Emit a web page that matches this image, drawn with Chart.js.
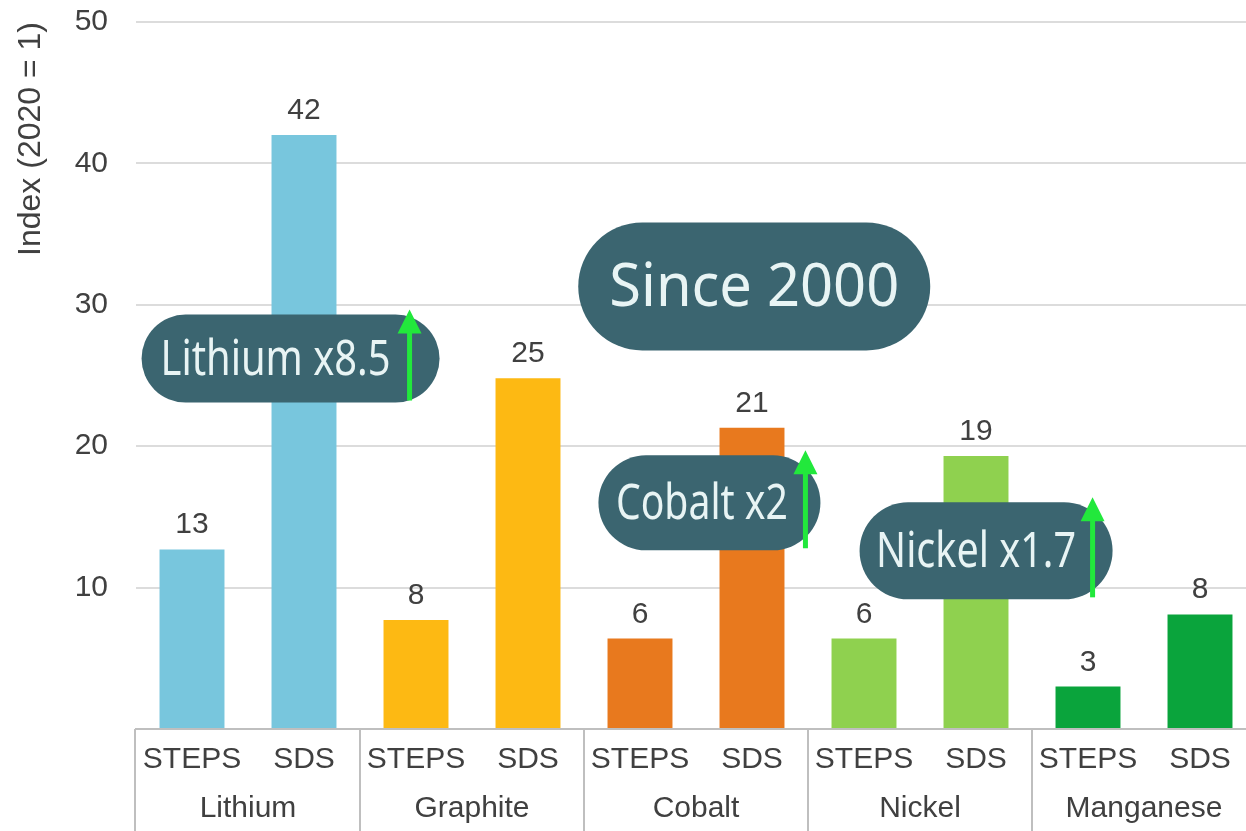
<!DOCTYPE html>
<html>
<head>
<meta charset="utf-8">
<title>Mineral demand index</title>
<script src="https://cdn.jsdelivr.net/npm/chart.js@4/dist/chart.umd.min.js"></script>
<style>
    html, body { margin: 0; padding: 0; background: #fff; overflow: hidden; }
</style>
</head>
<body>
<canvas id="ChartMinerals" width="1256" height="849"></canvas>
<script>
// Demand index by mineral, 2040 vs 2020
const minerals = ['Lithium', 'Graphite', 'Cobalt', 'Nickel', 'Manganese'];
const scenarios = ['STEPS', 'SDS'];
const stepsValues = [12.7, 7.7, 6.4, 6.4, 3.0];
const sdsValues = [42.0, 24.8, 21.3, 19.3, 8.1];
const yTicks = [10, 20, 30, 40, 50];

const mineralColors = ['#78c6dd', '#fdb913', '#e8791e', '#8fd14f', '#0aa43c'];
const textColor = '#404040';
const pillColor = '#3b6570';
const arrowColor = '#22e83c';
const labelFont = '"Liberation Sans", Arial, sans-serif';

// callouts placed on the chart scales (category index / index value)
const callouts = [
    { text: 'Since 2000', at: 5.02, value: 31.3, w: 352, h: 128, size: 60, fit: 290, arrow: false },
    { text: 'Lithium x8.5', at: 0.88, value: 26.2, w: 298, h: 88, size: 50, fit: 230, arrow: true, arrowDx: 30 },
    { text: 'Cobalt x2', at: 4.62, value: 16.0, w: 222, h: 95, size: 50, fit: 172, arrow: true, arrowDx: 15 },
    { text: 'Nickel x1.7', at: 7.09, value: 12.6, w: 253, h: 97, size: 50, fit: 200, arrow: true, arrowDx: 20 }
];

const labels = [];
const values = [];
const colors = [];
for (var m = 0; m < minerals.length; m++) {
    labels.push(scenarios[0], scenarios[1]);
    values.push(stepsValues[m], sdsValues[m]);
    colors.push(mineralColors[m], mineralColors[m]);
}

const valueLabels = {
    id: 'valueLabels',
    afterDatasetsDraw(chart) {
        const ctx = chart.ctx;
        const meta = chart.getDatasetMeta(0);
        ctx.save();
        ctx.font = '30px ' + labelFont;
        ctx.fillStyle = textColor;
        ctx.textAlign = 'center';
        ctx.textBaseline = 'alphabetic';
        meta.data.forEach(function (bar, i) {
            ctx.fillText(Math.round(values[i]), bar.x, bar.y - 16);
        });
        ctx.restore();
    }
};

const groupAxis = {
    id: 'groupAxis',
    afterDraw(chart) {
        const ctx = chart.ctx;
        const x = chart.scales.x;
        const top = chart.chartArea.bottom;
        const bottom = chart.height;
        ctx.save();
        ctx.strokeStyle = '#bfbfbf';
        ctx.lineWidth = 2;
        ctx.beginPath();
        ctx.moveTo(x.left - 1, top);
        ctx.lineTo(x.right, top);
        for (var g = 0; g <= minerals.length; g++) {
            const px = Math.round(x.getPixelForValue(g * 2 - 0.5)) - (g === 0 ? 1 : 0);
            ctx.moveTo(px, top);
            ctx.lineTo(px, bottom);
        }
        ctx.stroke();

        ctx.font = '30px ' + labelFont;
        ctx.fillStyle = textColor;
        ctx.textAlign = 'center';
        ctx.textBaseline = 'middle';
        minerals.forEach(function (name, g) {
            ctx.fillText(name, x.getPixelForValue(g * 2 + 0.5), top + 80);
        });
        ctx.restore();
    }
};

const calloutPills = {
    id: 'calloutPills',
    afterDraw(chart) {
        const ctx = chart.ctx;
        const x = chart.scales.x;
        const y = chart.scales.y;
        ctx.save();
        callouts.forEach(function (c) {
            const cx = x.getPixelForValue(c.at);
            const cy = y.getPixelForValue(c.value);
            const left = cx - c.w / 2;
            const right = cx + c.w / 2;
            const r = c.h / 2;

            ctx.fillStyle = pillColor;
            ctx.beginPath();
            ctx.roundRect(left, cy - r, c.w, c.h, r);
            ctx.fill();

            let textX = cx;
            let arrowX = 0;
            if (c.arrow) {
                arrowX = right - c.arrowDx;
                textX = (left + arrowX) / 2;
            }
            ctx.fillStyle = '#e8f4f4';
            ctx.font = c.size + 'px "Noto Sans", "Open Sans", sans-serif';
            ctx.textAlign = 'center';
            ctx.textBaseline = 'middle';
            ctx.fillText(c.text, textX, cy + 2, c.fit);

            if (c.arrow) {
                const tip = cy - r - 5;
                const tail = cy + r - 2;
                ctx.strokeStyle = arrowColor;
                ctx.fillStyle = arrowColor;
                ctx.lineWidth = 5;
                ctx.beginPath();
                ctx.moveTo(arrowX, tail);
                ctx.lineTo(arrowX, tip + 20);
                ctx.stroke();
                ctx.beginPath();
                ctx.moveTo(arrowX, tip);
                ctx.lineTo(arrowX - 12, tip + 24);
                ctx.lineTo(arrowX + 12, tip + 24);
                ctx.closePath();
                ctx.fill();
            }
        });
        ctx.restore();
    }
};

const data = {
    labels: labels,
    datasets: [{
        label: 'Index (2020 = 1)',
        data: values,
        backgroundColor: colors,
        borderWidth: 0,
        barPercentage: 0.58,
        categoryPercentage: 1.0
    }]
};

const config = {
    type: 'bar',
    data: data,
    options: {
        responsive: false,
        animation: false,
        layout: {
            padding: { top: 22, right: 0, left: 0, bottom: 0 }
        },
        plugins: {
            legend: { display: false },
            tooltip: { enabled: false }
        },
        scales: {
            x: {
                grid: { display: false, drawTicks: false },
                border: { display: false },
                ticks: {
                    color: textColor,
                    padding: 13,
                    maxRotation: 0,
                    autoSkip: false,
                    font: { family: labelFont, size: 30 }
                },
                afterFit: function (scale) {
                    scale.height = 120;
                    scale.paddingLeft = 0;
                    scale.paddingRight = 0;
                }
            },
            y: {
                min: 0,
                max: 50,
                afterBuildTicks: function (scale) {
                    scale.ticks = [0].concat(yTicks).map(function (v) { return { value: v }; });
                },
                grid: {
                    drawTicks: false,
                    lineWidth: 2,
                    color: function (c) { return c.tick && c.tick.value === 0 ? 'rgba(0,0,0,0)' : '#dcdcdc'; }
                },
                border: { display: false },
                ticks: {
                    color: textColor,
                    padding: 28,
                    font: { family: labelFont, size: 30 },
                    callback: function (v) { return v === 0 ? '' : v; }
                },
                title: {
                    display: true,
                    text: 'Index (2020 = 1)',
                    align: 'end',
                    color: textColor,
                    padding: { top: 12, bottom: 0 },
                    font: { family: labelFont, size: 32 }
                },
                afterFit: function (scale) {
                    scale.width = 136;
                    scale.paddingTop = 0;
                    scale.paddingBottom = 0;
                }
            }
        }
    },
    plugins: [valueLabels, groupAxis, calloutPills]
};

const myChartMinerals = new Chart(
    document.getElementById('ChartMinerals'),
    config
);
</script>
</body>
</html>
